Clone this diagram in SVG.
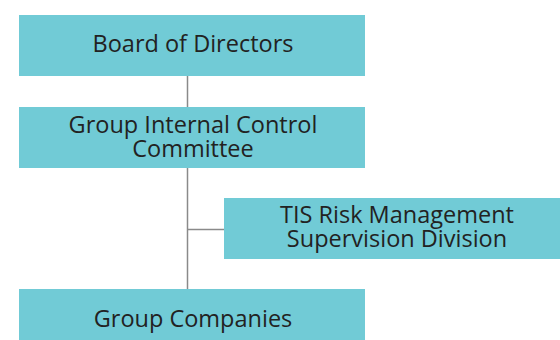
<svg xmlns="http://www.w3.org/2000/svg" width="560" height="340" viewBox="0 0 560 340">
<style>
.box{fill:#71CBD6;}
.lbl{font-family:"Open Sans","Noto Sans",sans-serif;font-size:23.5px;fill:#222;text-anchor:middle;}
.conn{stroke:#8a8a8a;stroke-width:1.5;fill:none;}
</style>
<rect width="560" height="340" fill="#fff"/>
<g id="connectors">
<line class="conn" x1="187.5" y1="76" x2="187.5" y2="107"/>
<line class="conn" x1="187.5" y1="168" x2="187.5" y2="289"/>
<line class="conn" x1="187.5" y1="229.5" x2="224" y2="229.5"/>
</g>
<g id="board">
<rect class="box" x="19" y="15" width="346" height="61"/>
<text class="lbl" x="193" y="52">Board of Directors</text>
</g>
<g id="gicc">
<rect class="box" x="19" y="107" width="346" height="61"/>
<text class="lbl" x="193" y="133">Group Internal Control</text>
<text class="lbl" x="193" y="157">Committee</text>
</g>
<g id="tis">
<rect class="box" x="224" y="198" width="336" height="61"/>
<text class="lbl" x="397" y="223">TIS Risk Management</text>
<text class="lbl" x="397" y="247">Supervision Division</text>
</g>
<g id="companies">
<rect class="box" x="19" y="289" width="346" height="51"/>
<text class="lbl" x="193" y="327">Group Companies</text>
</g>
</svg>
